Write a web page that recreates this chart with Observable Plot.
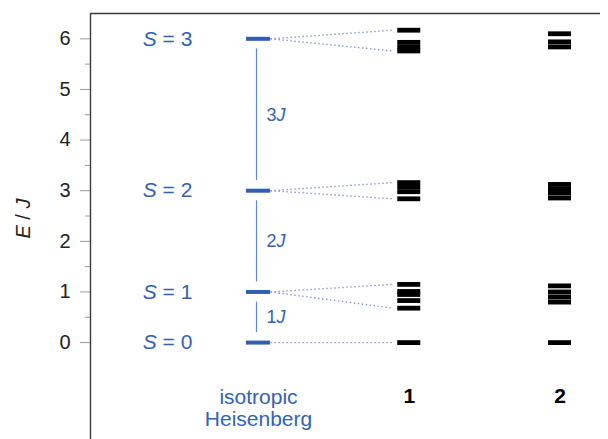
<!DOCTYPE html>
<html>
<head>
<meta charset="utf-8">
<script src="https://cdn.jsdelivr.net/npm/d3@7"></script>
<script src="https://cdn.jsdelivr.net/npm/@observablehq/plot@0.6"></script>
<style>
  html, body { margin: 0; padding: 0; background: #fff; }
</style>
</head>
<body>
<div id="chart"></div>
<script>
// ---- data ----
const columns = ["isotropic\nHeisenberg", "1", "2"];
const spinS = [0, 1, 2, 3];
const heisenbergE = [0, 1, 3, 6];
const gapLabels = ["1J", "2J", "3J"];
const yTicks = [0, 1, 2, 3, 4, 5, 6];
const yMinorTicks = [0.5, 1.5, 2.5, 3.5, 4.5, 5.5];

// compound 1 sublevels (E / J) per spin manifold S = 0..3
const c1S0 = [0];
const c1S1 = [1.15, 1.01, 0.95, 0.83, 0.68];
const c1S2 = [3.16, 3.07, 2.98, 2.84];
const c1S3 = [6.17, 5.93, 5.84, 5.76];
// compound 2 sublevels
const c2S0 = [0];
const c2S1 = [1.12, 1.00, 0.90, 0.80];
const c2S2 = [3.125, 3.04, 2.955, 2.856];
const c2S3 = [6.10, 5.94, 5.84];

// ---- tables built from arrays ----
const blue = "#2f5fae";
const blueText = "#3462b3";
const heis = spinS.map((S, i) => ({S, E: heisenbergE[i]}));
const gaps = gapLabels.map((label, i) => ({label, lo: heisenbergE[i], hi: heisenbergE[i + 1]}));
const c1 = [c1S0, c1S1, c1S2, c1S3];
const c2 = [c2S0, c2S1, c2S2, c2S3];
const levels = [];
c1.forEach((g, s) => g.forEach(E => levels.push({col: 1, S: s, E})));
c2.forEach((g, s) => g.forEach(E => levels.push({col: 2, S: s, E})));
const links = [];
c1.forEach((g, s) => {
  const ends = Array.from(new Set([d3.max(g), d3.min(g)]));
  ends.forEach(E => links.push({from: heisenbergE[s], to: E}));
});
const colLabels = columns.map((text, i) => ({col: i, text}));

// ---- geometry helpers (pixel -> x data units) ----
const colStep = 150.75, col0 = 258;
const px = p => (p - col0) / colStep;
const xDomain = [px(90), px(600)];
const barHalf = 11.5 / colStep;
const levelHalf = 12 / colStep;

const chart = Plot.plot({
  width: 608,
  height: 439,
  marginLeft: 90,
  marginRight: 8,
  marginTop: 13,
  marginBottom: 0,
  x: {domain: xDomain, axis: null},
  y: {domain: [-1.914, 6.5], axis: null},
  style: {fontFamily: "'Liberation Sans', Arial, sans-serif", fontSize: "20px", background: "#fff", overflow: "visible"},
  marks: [
    Plot.axisY(yMinorTicks, {tickSize: 5, tickFormat: () => "", label: null, stroke: "#999"}),
    Plot.axisY(yTicks, {tickSize: 10, tickPadding: 10, tickFormat: "d", fontSize: 20, label: null, stroke: "#999", fill: "#222"}),
    Plot.ruleX([xDomain[0]], {stroke: "#3a3a3a", strokeWidth: 1.4}),
    Plot.ruleY([6.5], {stroke: "#3a3a3a", strokeWidth: 1.4}),
    // dotted links
    Plot.link(links, {x1: levelHalf, y1: "from", x2: 1 - 0.11, y2: "to", stroke: "#8393da", strokeWidth: 1.4, strokeDasharray: "1.4,2.6"}),
    // vertical gap rules
    Plot.ruleX(gaps, {x: px(256), y1: d => d.lo + 0.2, y2: d => d.hi - 0.2, stroke: "#5d86cc", strokeWidth: 1.2}),
    Plot.text(gaps, {x: px(266), y: d => (d.lo + d.hi) / 2, text: "label", textAnchor: "start", fontSize: 18, fill: blueText}),
    // Heisenberg levels
    Plot.ruleY(heis, {y: "E", x1: -levelHalf, x2: levelHalf, stroke: blue, strokeWidth: 4}),
    Plot.text(heis, {x: px(167), y: "E", text: d => `S = ${d.S}`, fontSize: 21, fill: blueText}),
    // compound sublevels
    Plot.ruleY(levels, {y: "E", x1: d => d.col - barHalf, x2: d => d.col + barHalf, stroke: "#000", strokeWidth: 4.8}),
    // column labels
    Plot.text(colLabels.filter(d => d.col === 0), {x: "col", y: -0.89, text: "text", lineAnchor: "top", lineHeight: 1.08, fontSize: 21, fill: blueText}),
    Plot.text(colLabels.filter(d => d.col !== 0), {x: "col", y: -0.89, text: "text", lineAnchor: "top", fontSize: 21, fontWeight: "bold", fill: "#000"}),
    // y label
    Plot.text(["E / J"], {x: px(23), y: 2.45, text: d => d, rotate: -90, fontSize: 20, fill: "#222"})
  ]
});

// italic symbols
d3.select(chart).selectAll("text").each(function () {
  const el = d3.select(this);
  if (this.querySelector("tspan")) return;
  const t = this.textContent;
  let m;
  if ((m = t.match(/^S = (\d)$/))) {
    el.text(null);
    el.append("tspan").attr("font-style", "italic").text("S");
    el.append("tspan").text(" = " + m[1]);
  } else if ((m = t.match(/^(\d)J$/))) {
    el.text(null);
    el.append("tspan").text(m[1]);
    el.append("tspan").attr("font-style", "italic").text("J");
  } else if (t === "E / J") {
    el.text(null);
    el.append("tspan").attr("font-style", "italic").text("E");
    el.append("tspan").text(" / ");
    el.append("tspan").attr("font-style", "italic").text("J");
  }
});

document.getElementById("chart").appendChild(chart);
</script>
</body>
</html>
